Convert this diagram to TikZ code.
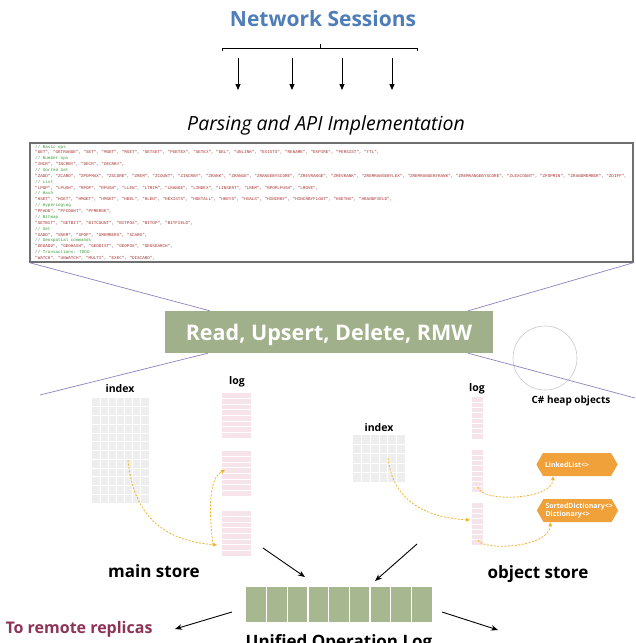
\documentclass[tikz,border=0pt]{standalone}
\usepackage{fontspec}
\setmainfont{Open Sans}
\newfontfamily\codefont{Liberation Mono}
\usetikzlibrary{arrows.meta,shapes.symbols}
\definecolor{netblue}{HTML}{4F7DB8}
\definecolor{codegray}{HTML}{6E6E6E}
\definecolor{codegreen}{HTML}{3A9A3A}
\definecolor{codered}{HTML}{A83232}
\definecolor{sage}{HTML}{9FB08A}
\definecolor{logsage}{HTML}{A7B891}
\definecolor{persp}{HTML}{8A84C0}
\definecolor{heapgray}{HTML}{C8C8D2}
\definecolor{gridgray}{HTML}{EEEEEE}
\definecolor{logpink}{HTML}{F7E4EA}
\definecolor{heaporange}{HTML}{F0A13A}
\definecolor{ptryellow}{HTML}{F0B530}
\definecolor{maroon}{HTML}{8E3358}
\begin{document}
\begin{tikzpicture}[x=1pt,y=-1pt,
  titlestyle/.style={anchor=base, font=\bfseries\fontsize{21}{24}\selectfont, text=netblue, inner sep=0},
  parsestyle/.style={anchor=base, font=\itshape\fontsize{19.5}{22}\selectfont, inner sep=0},
  codebox/.style={draw=codegray, line width=1.3pt, minimum width=603pt, minimum height=119pt, inner sep=0},
  codeline/.style={anchor=base west, font=\codefont\fontsize{4.25}{5}\selectfont, inner sep=0},
  perspline/.style={draw=persp, line width=0.7pt},
  opbox/.style={fill=sage, text=white, font=\bfseries\fontsize{21.5}{24}\selectfont, minimum width=328pt, minimum height=42pt, text height=18pt, text depth=2pt, inner sep=0},
  lbl/.style={anchor=base, font=\bfseries\fontsize{10.5}{12}\selectfont, inner sep=0},
  storelbl/.style={anchor=base, font=\bfseries\fontsize{17}{20}\selectfont, inner sep=0},
  blackarrow/.style={-{Stealth[length=7pt,width=5.5pt]}, line width=0.9pt},
  downarrow/.style={-{Triangle[length=6pt,width=5pt]}, line width=0.9pt},
  ptr/.style={draw=ptryellow, line width=0.8pt, dash pattern=on 2pt off 1.5pt, -{Triangle[length=4pt,width=3.5pt]}},
  heapobj/.style={signal, signal to=east and west, signal pointer angle=120, fill=heaporange, text=white, font=\bfseries\fontsize{7}{8.5}\selectfont, minimum height=23pt, minimum width=80pt, text width=64pt, align=left, inner xsep=2pt, inner ysep=1pt},
  gridline/.style={draw=white, line width=0.8pt},
  cellbox/.style={inner sep=0, outer sep=0}
]
\useasboundingbox (0,0) rectangle (635,643);
\fill[white] (0,0) rectangle (635,643);

% ---- top
\node[titlestyle] (net) at (323,26) {Network Sessions};
\draw[line width=0.8pt] (222,51) -- (222,48) -- (417,48) -- (417,51);
\draw[line width=0.8pt] (320,48) -- (320,44);
\foreach \xx [count=\j] in {238,292,342,392} {
  \coordinate (dtop\j) at (\xx,58);
  \coordinate (dbot\j) at (\xx,90);
  \draw[downarrow] (dtop\j) -- (dbot\j);
}
\node[parsestyle] (parse) at (326,130) {Parsing and API Implementation};

% ---- code box
\node[codebox] (code) at (331.5,202.5) {};
\foreach \ln [count=\i from 0] in {
 {// Basic ops},
 {"GET", "GETRANGE", "SET", "MGET", "MSET", "GETSET", "PSETEX", "SETEX", "DEL", "UNLINK", "EXISTS", "RENAME", "EXPIRE", "PERSIST", "TTL",},
 {// Number ops},
 {"INCR", "INCRBY", "DECR", "DECRBY",},
 {// Sorted Set},
 {"ZADD", "ZCARD", "ZPOPMAX", "ZSCORE", "ZREM", "ZCOUNT", "ZINCRBY", "ZRANK", "ZRANGE", "ZRANGEBYSCORE", "ZREVRANGE", "ZREVRANK", "ZREMRANGEBYLEX", "ZREMRANGEBYRANK", "ZREMRANGEBYSCORE", "ZLEXCOUNT", "ZPOPMIN", "ZRANDMEMBER", "ZDIFF",},
 {// List},
 {"LPOP", "LPUSH", "RPOP", "RPUSH", "LLEN", "LTRIM", "LRANGE", "LINDEX", "LINSERT", "LREM", "RPOPLPUSH", "LMOVE",},
 {// Hash},
 {"HSET", "HGET", "HMGET", "HMSET", "HDEL", "HLEN", "HEXISTS", "HGETALL", "HKEYS", "HVALS", "HINCRBY", "HINCRBYFLOAT", "HSETNX", "HRANDFIELD",},
 {// HyperLogLog},
 {"PFADD", "PFCOUNT", "PFMERGE",},
 {// Bitmap},
 {"SETBIT", "GETBIT", "BITCOUNT", "BITPOS", "BITOP", "BITFIELD",},
 {// Set},
 {"SADD", "SREM", "SPOP", "SMEMBERS", "SCARD",},
 {// Geospatial commands},
 {"GEOADD", "GEOHASH", "GEODIST", "GEOPOS", "GEOSEARCH",},
 {// Transactions: TODO},
 {"WATCH", "UNWATCH", "MULTI", "EXEC", "DISCARD",}
} {
  \pgfmathsetmacro\yy{148+\i*5.87}
  \ifodd\i \def\cc{codered}\else\def\cc{codegreen}\fi
  \node[codeline, text=\cc] (cl\i) at (35,\yy) {\ln};
}

% ---- operations box
\node[opbox] (ops) at (329,332) {Read, Upsert, Delete, RMW};
\coordinate (lfree) at (40,395);
\coordinate (rfree) at (635,398);
\draw[perspline] (code.south west) -- ([xshift=45pt]ops.north west);
\draw[perspline] (code.south east) -- ([xshift=-25pt]ops.north east);
\draw[perspline] ([xshift=43pt]ops.south west) -- (lfree);
\node[draw=heapgray, line width=0.6pt, circle, minimum size=64pt, inner sep=0] (heap) at (545,358) {};
\draw[perspline] ([xshift=-25pt]ops.south east) -- (rfree);

% ---- labels
\node[lbl] (midxl) at (120,392) {index};
\node[lbl] (mlogl) at (237,384) {log};
\node[lbl] (ologl) at (477,391) {log};
\node[lbl] (oidxl) at (379,431) {index};
\node[lbl, font=\bfseries\fontsize{10}{12}\selectfont] (heapl) at (571,403) {C\# heap objects};

% ---- main store index grid
\node[cellbox, fill=gridgray, minimum width=57pt, minimum height=105pt] (midx) at (120.5,450.5) {};
\foreach \k in {1,...,6} {\draw[gridline] ({92+\k*57/7},398) -- ({92+\k*57/7},503);}
\foreach \k in {1,...,11} {\draw[gridline] (92,{398+\k*105/12}) -- (149,{398+\k*105/12});}

% ---- main store log
\foreach \tp [count=\s] in {393,451,511} {
  \node[cellbox, fill=logpink, minimum width=29pt, minimum height=45pt] (mlog\s) at (236.5,{\tp+22.5}) {};
  \foreach \r in {1,...,7} {\draw[gridline] (222,{\tp+\r*45/8}) -- (251,{\tp+\r*45/8});}
}

% ---- object store index grid
\node[cellbox, fill=gridgray, minimum width=52pt, minimum height=47pt] (oidx) at (379,458.5) {};
\foreach \k in {1,...,5} {\draw[gridline] ({353+\k*52/6},435) -- ({353+\k*52/6},482);}
\foreach \k in {1,...,4} {\draw[gridline] (353,{435+\k*47/5}) -- (405,{435+\k*47/5});}

% ---- object store log
\foreach \tp [count=\s] in {397,450,503} {
  \node[cellbox, fill=logpink, minimum width=11pt, minimum height=42pt] (olog\s) at (477.5,{\tp+21}) {};
  \foreach \r in {1,...,7} {\draw[gridline] (472,{\tp+\r*42/8}) -- (483,{\tp+\r*42/8});}
}

% ---- heap objects
\node[heapobj] (ll) at (577,464.5) {LinkedList<>};
\node[heapobj] (sd) at (577.5,510.5) {SortedDictionary<>\\Dictionary<>};

% ---- pointers
\coordinate (mp1) at (128,460);
\coordinate (mp2) at (217,545);
\coordinate (mp3) at (213,545);
\coordinate (mp4) at (225,470);
\draw[ptr] (mp1) .. controls (134,522) and (170,541) .. (mp2);
\draw[ptr] (mp3) .. controls (208,505) and (210,478) .. (mp4);
\coordinate (op1) at (388,458);
\coordinate (op2) at (470,520);
\coordinate (op3) at (478,487);
\coordinate (op4) at (478,540);
\draw[ptr] (op1) .. controls (392,495) and (418,517) .. (op2);
\draw[ptr] (op3) .. controls (481,503) and (552,500) .. ([xshift=-24pt]ll.south);
\draw[ptr] (op4) .. controls (482,551) and (549,548) .. ([xshift=-27pt]sd.south);

% ---- store labels
\node[storelbl] (mstore) at (154,577) {main store};
\node[storelbl] (ostore) at (538,578) {object store};

% ---- unified log
\node[cellbox, fill=logsage, minimum width=186pt, minimum height=35pt] (ulog) at (339,604.5) {};
\foreach \k in {1,...,8} {\draw[white, line width=1.5pt] ({246+\k*186/9},587) -- ({246+\k*186/9},622);}
\coordinate (ms1) at (263,548);
\coordinate (os1) at (417,544);
\draw[blackarrow] (ms1) -- ([xshift=-34pt,yshift=10pt]ulog.north);
\draw[blackarrow] (os1) -- ([xshift=36pt,yshift=6pt]ulog.north);
\node[storelbl, font=\bfseries\fontsize{16}{19}\selectfont, text=maroon] (remote) at (79,633) {To remote replicas};
\coordinate (remtip) at (175,629);
\coordinate (rtip) at (498,630);
\draw[blackarrow] ([xshift=-14pt,yshift=-7.5pt]ulog.west) -- (remtip);
\draw[blackarrow] ([xshift=10pt,yshift=-7.5pt]ulog.east) -- (rtip);
\node[storelbl] (ulogl) at (339,647) {Unified Operation Log};
\end{tikzpicture}
\end{document}
